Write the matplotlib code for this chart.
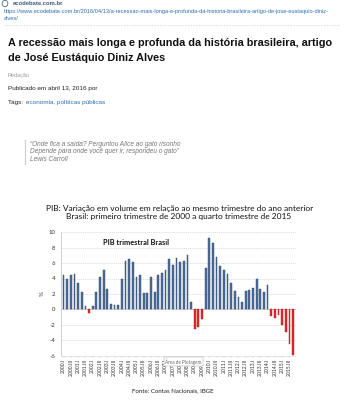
import matplotlib
matplotlib.use("Agg")
import matplotlib.pyplot as plt
from matplotlib.patches import Circle

# PIB trimestral: variação em volume vs. mesmo trimestre do ano anterior (%)
years = list(range(2000, 2016))
quarters = ["I", "II", "III", "IV"]
gdp_growth = [
    4.4, 4.0, 4.5, 4.6,    # 2000
    3.4, 2.3, 0.4, -0.5,   # 2001
    0.4, 2.3, 4.2, 5.1,    # 2002
    2.6, 0.7, 0.6, 0.6,    # 2003
    3.9, 6.3, 6.5, 6.2,    # 2004
    4.2, 4.4, 2.1, 2.1,    # 2005
    4.2, 2.2, 4.5, 4.7,    # 2006
    5.1, 6.5, 5.8, 6.6,    # 2007
    6.1, 6.3, 7.0, 1.0,    # 2008
    -2.5, -2.3, -1.3, 5.3, # 2009
    9.2, 8.6, 6.8, 5.6,    # 2010
    5.1, 4.6, 3.4, 2.4,    # 2011
    1.6, 0.9, 2.4, 2.5,    # 2012
    2.8, 4.0, 2.7, 2.3,    # 2013
    3.2, -0.9, -1.1, -0.7, # 2014
    -2.0, -3.0, -4.5, -5.9 # 2015
]
quarter_labels = [f"{y}.{q}" for y in years for q in quarters]
y_ticks = [-6, -4, -2, 0, 2, 4, 6, 8, 10]

web_font = "Liberation Sans"
chart_font = "Lato"
W, H = 354, 400


def pos(x, y):
    return x / W, 1 - y / H


fig = plt.figure(figsize=(3.54, 4.0), dpi=100)
fig.patch.set_facecolor("white")

# --- page header ---
fig.patches.append(Circle(pos(5, 3.5), 0.008, transform=fig.transFigure,
                          facecolor="white", edgecolor="#4a6a8a", lw=0.6))
fig.text(*pos(13, 3.5), "ecodebate.com.br", fontsize=4.2, fontweight="bold",
         color="#3d5a7a", family=web_font, va="center")
fig.text(*pos(4, 11), "https://www.ecodebate.com.br/2016/04/13/a-recessao-mais-longa-e-profunda-"
         "da-historia-brasileira-artigo-de-jose-eustaquio-diniz-",
         fontsize=4.05, color="#2a6db5", family=web_font, va="center")
fig.text(*pos(4, 18.5), "alves/", fontsize=4.05, color="#2a6db5", family=web_font, va="center")
fig.add_artist(plt.Line2D([4 / W, 340 / W], [1 - 25 / H, 1 - 25 / H], transform=fig.transFigure,
                          color="#cccccc", lw=0.5, ls=(0, (2, 2))))

fig.text(*pos(8, 43), "A recessão mais longa e profunda da história brasileira, artigo",
         fontsize=7.8, fontweight="bold", color="#111111", family=web_font, va="center")
fig.text(*pos(8, 58), "de José Eustáquio Diniz Alves",
         fontsize=7.8, fontweight="bold", color="#111111", family=web_font, va="center")
fig.text(*pos(8, 75), "Redação", fontsize=4.0, color="#999999", family=web_font, va="center")
fig.text(*pos(8, 88.5), "Publicado em abril 13, 2016 por", fontsize=4.6,
         color="#222222", family=web_font, va="center")
tags = fig.text(*pos(8, 102.5), "Tags: ", fontsize=4.6, color="#222222",
                family=web_font, va="center")
renderer = fig.canvas.get_renderer()
tags_end = tags.get_window_extent(renderer).x1 / fig.bbox.width
fig.text(tags_end + 0.004, 1 - 102.5 / H, "economia, políticas públicas", fontsize=4.6,
         color="#2a6db5", family=web_font, va="center")

# quote block
fig.add_artist(plt.Line2D([25 / W, 25 / W], [1 - 140 / H, 1 - 164 / H], transform=fig.transFigure,
                          color="#cccccc", lw=0.8))
quote = ["“Onde fica a saída? Perguntou Alice ao gato risonho",
         "Depende para onde você quer ir, respondeu o gato”",
         "Lewis Carroll"]
for i, line in enumerate(quote):
    fig.text(*pos(30, 144 + i * 7.8), line, fontsize=4.7, style="italic",
             color="#777777", family=web_font, va="center")

# chart titles
fig.text(*pos(180, 209), "PIB: Variação em volume em relação ao mesmo trimestre do ano anterior",
         fontsize=6.0, color="#111111", family=chart_font, ha="center", va="center")
fig.text(*pos(179, 217), "Brasil: primeiro trimestre de 2000 a quarto trimestre de 2015",
         fontsize=6.0, color="#111111", family=chart_font, ha="center", va="center")

# --- chart ---
ax = fig.add_axes([61 / W, 1 - 355.5 / H, (296 - 61) / W, (355.5 - 232.3) / H])
x = list(range(len(gdp_growth)))
colors = ["#4e6e9c" if v >= 0 else "#e3262a" for v in gdp_growth]
edges = ["#2c4669" if v >= 0 else "#c81a1e" for v in gdp_growth]
ax.bar(x, gdp_growth, width=0.5, color=colors, edgecolor=edges, linewidth=0.3, zorder=3)

ax.set_ylim(-6, 10)
ax.set_xlim(-0.7, 63.8)
ax.set_yticks(y_ticks)
ax.set_yticklabels([str(t) for t in y_ticks], fontsize=4.3, family=chart_font, color="#333333")
ax.set_xticks(x[::2])
ax.set_xticklabels(quarter_labels[::2], rotation=90, fontsize=3.7, family=chart_font,
                   color="#333333")
ax.tick_params(axis="y", length=0, pad=4)
ax.tick_params(axis="x", length=1.5, width=0.3, color="#bbbbbb", pad=1)
ax.grid(axis="y", color="#c8c8c8", lw=0.4, ls=(0, (2, 1.5)), zorder=0)
ax.axhline(0, color="#bbbbbb", lw=0.5, zorder=2)
for side in ["top", "right"]:
    ax.spines[side].set_visible(False)
ax.spines["left"].set_color("#bbbbbb")
ax.spines["left"].set_linewidth(0.5)
ax.spines["bottom"].set_color("#cccccc")
ax.spines["bottom"].set_linewidth(0.4)
ax.spines["bottom"].set_linestyle((0, (2, 1.5)))
ax.set_ylabel("%", fontsize=4.5, family=chart_font, color="#333333", labelpad=3)

ax.text(0.18, 0.92, "PIB trimestral Brasil", transform=ax.transAxes, fontsize=5.3,
        fontweight="bold", family=chart_font, color="#111111", va="center")

fig.text(*pos(165, 361.5), "Área de Plotagem", fontsize=3.3, family=chart_font, color="#666666",
         va="center", zorder=10,
         bbox=dict(boxstyle="square,pad=0.3", facecolor="white", edgecolor="#999999", lw=0.3))

fig.text(*pos(173, 390.5), "Fonte: Contas Nacionais, IBGE", fontsize=4.4,
         family=chart_font, color="#222222", ha="center", va="center")

fig.savefig("out.png", dpi=100)
